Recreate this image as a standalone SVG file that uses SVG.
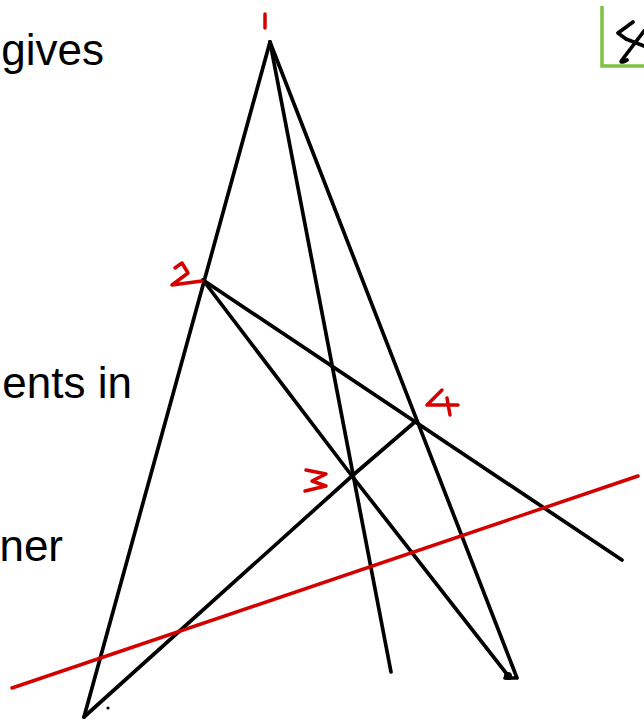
<svg xmlns="http://www.w3.org/2000/svg" width="644" height="721" viewBox="0 0 644 721">
<style>
.t{font-family:"Liberation Sans",Arial,sans-serif;font-size:44px;fill:#000}
.k{stroke:#000;stroke-width:3.7;stroke-linecap:round;stroke-linejoin:round;fill:none}
.r{stroke:#d40000;stroke-width:3.5;stroke-linecap:round;stroke-linejoin:round;fill:none}
</style>
<rect width="644" height="721" fill="#fff"/>
<g id="text">
<text class="t" x="104" y="65" text-anchor="end">gives</text>
<text class="t" x="132" y="398" text-anchor="end">ents in</text>
<text class="t" x="63" y="561" text-anchor="end">ner</text>
</g>
<g id="box">
<path d="M602,6 V66 H644" stroke="#7dc242" stroke-width="3.5" fill="none"/>
<path class="k" d="M633,22 L618,33 L626,39 L644,46 M644,31 L622,60 Q619,64 627,60" stroke-width="3.2"/>
</g>
<g id="connectors">
<path class="k" d="M270,42 L84,717"/>
<path class="k" d="M270,42 L391,672"/>
<path class="k" d="M270,42 L517,678 L505,678"/>
<path class="k" d="M203,280 L622,560"/>
<path class="k" d="M203,280 L352,476 L510,678"/>
<path class="k" d="M84,717 L352,476 L416,421"/>
<circle cx="508" cy="676" r="4" fill="#000"/>
<circle cx="108" cy="708" r="1.6" fill="#000"/>
</g>
<g id="redline">
<path class="r" d="M12,688 L638,476"/>
</g>
<g id="labels">
<path id="n1" class="r" d="M265,14 L265,28"/>
<path id="n2" class="r" d="M175,268 L182,263 L188,273 L172,285 L202,281"/>
<path id="n3" class="r" d="M306,470 L326,474 L312,481 L326,486 L305,491"/>
<path id="n4" class="r" d="M442,390 L427,405 L458,405 M447,398 L450,415"/>
</g>
</svg>
